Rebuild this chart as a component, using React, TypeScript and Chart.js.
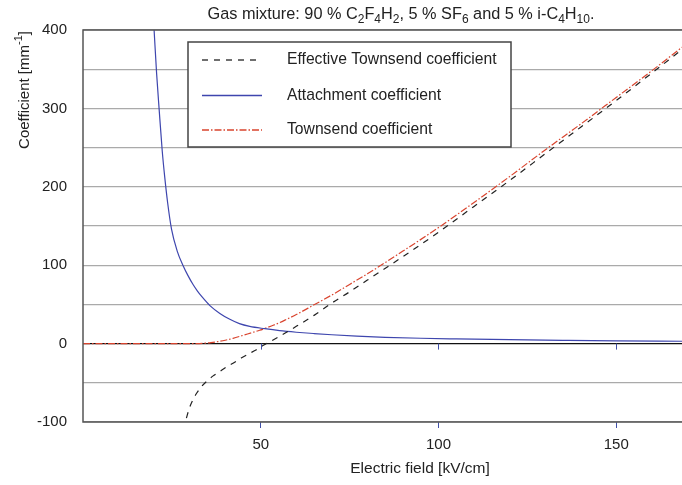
import React, { useEffect, useRef } from 'react';
import { Chart, registerables } from 'chart.js';

Chart.register(...registerables);

// ---------- data ----------
const effX = [29.1, 29.6, 30.2, 31, 32, 33.3, 34.7, 36.5, 38.5, 40.3, 42.2, 44.5, 46.9, 48.5, 50.2, 52.1, 55, 57.5, 60, 65, 69.4, 75, 80, 90, 100, 110, 120, 130, 140, 150, 160, 168.5];
const effY = [-95, -87, -79, -71, -63, -55, -48.5, -41.5, -35.5, -30, -25, -18.5, -12.4, -8.5, -3.5, 1.2, 8.5, 15, 22, 36, 50, 66, 81, 111, 142, 175, 208, 242, 276, 310, 345, 375];

const attachX = [20, 20.7, 21.4, 22.3, 23, 23.8, 24.9, 26.5, 28.2, 29.5, 31, 32.2, 33.5, 35.7, 38.5, 41.3, 44, 46.9, 51.1, 55.3, 60, 65, 70, 77, 85, 95, 105, 120, 135, 150, 168.5];
const attachY = [400, 345, 300, 245, 212, 180, 146, 118, 99, 87, 75, 67, 59.5, 48.5, 38.5, 31, 25.5, 22, 19, 16.5, 14.5, 12.8, 11.3, 9.5, 8, 6.8, 6, 5, 4.2, 3.5, 3];

const townX = [0, 10, 20, 30, 32, 34, 36, 38, 40, 42.2, 45, 47.5, 49.7, 51.1, 53, 55.3, 57.5, 60, 65, 70, 75, 80, 90, 100, 110, 120, 130, 140, 150, 160, 168.5];
const townY = [0, 0, 0, 0, 0, 0.5, 1.3, 2.6, 4.3, 6.7, 10.5, 14, 17, 19.2, 22.5, 26.7, 31.5, 37, 49.5, 62, 75.5, 89, 118, 148, 180, 213, 247, 280, 314, 348, 378];

const seriesNames = ['Effective Townsend coefficient', 'Attachment coefficient', 'Townsend coefficient'];
const seriesColors = ['#222222', '#3e46ae', '#d9442e'];
const seriesDashes = [[6, 6], [], [7, 2, 1.5, 2]];
const xTickValues = [50, 100, 150];
const xMin = 0;
const xMax = 168.5;
const yMin = -100;
const yMax = 400;

type Seg = { t: string; s?: 'sub' | 'sup' };
const titleSegs: Seg[] = [
  { t: 'Gas mixture: 90 % C' }, { t: '2', s: 'sub' }, { t: 'F' }, { t: '4', s: 'sub' }, { t: 'H' }, { t: '2', s: 'sub' },
  { t: ', 5 % SF' }, { t: '6', s: 'sub' }, { t: ' and 5 % i-C' }, { t: '4', s: 'sub' }, { t: 'H' }, { t: '10', s: 'sub' }, { t: '.' },
];
const yTitleSegs: Seg[] = [{ t: 'Coefficient [mm' }, { t: '-1', s: 'sup' }, { t: ']' }];
const xTitle = 'Electric field [kV/cm]';

const FONT = '"Liberation Sans", Arial, Helvetica, sans-serif';
const TEXT = '#222';

function toPts(xs: number[], ys: number[]) {
  return xs.map((x, i) => ({ x, y: ys[i] }));
}

function drawRich(ctx: CanvasRenderingContext2D, segs: Seg[], cx: number, by: number, size: number) {
  const base = `${size}px ${FONT}`;
  const small = `${Math.round(size * 0.75)}px ${FONT}`;
  const widths = segs.map((s) => {
    ctx.font = s.s ? small : base;
    return ctx.measureText(s.t).width;
  });
  const total = widths.reduce((a, b) => a + b, 0);
  let x = cx - total / 2;
  ctx.textAlign = 'left';
  ctx.textBaseline = 'alphabetic';
  segs.forEach((s, i) => {
    ctx.font = s.s ? small : base;
    const dy = s.s === 'sub' ? size * 0.28 : s.s === 'sup' ? -size * 0.42 : 0;
    ctx.fillText(s.t, x, by + dy);
    x += widths[i];
  });
}

const decorPlugin = {
  id: 'decor',
  afterDraw(chart: any) {
    const ctx: CanvasRenderingContext2D = chart.ctx;
    const { left, right, top, bottom } = chart.chartArea;
    const xs = chart.scales.x;
    const ys = chart.scales.y;
    ctx.save();

    // small tick marks below the zero line
    const y0 = ys.getPixelForValue(0);
    ctx.strokeStyle = '#4050a8';
    ctx.lineWidth = 1;
    xTickValues.forEach((v) => {
      const px = Math.round(xs.getPixelForValue(v)) + 0.5;
      ctx.beginPath();
      ctx.moveTo(px, y0);
      ctx.lineTo(px, y0 + 6);
      ctx.stroke();
    });

    // frame (left, top, bottom)
    ctx.strokeStyle = '#555';
    ctx.lineWidth = 1.5;
    ctx.beginPath();
    ctx.moveTo(right + 2, top);
    ctx.lineTo(left, top);
    ctx.lineTo(left, bottom);
    ctx.lineTo(right + 2, bottom);
    ctx.stroke();

    // legend
    const bx = 188, by = 42, bw = 323, bh = 105;
    ctx.fillStyle = '#fff';
    ctx.fillRect(bx, by, bw, bh);
    ctx.strokeStyle = '#444';
    ctx.lineWidth = 1.5;
    ctx.strokeRect(bx, by, bw, bh);
    const rows = [60, 95.5, 130];
    seriesNames.forEach((name, i) => {
      const yy = rows[i];
      ctx.beginPath();
      ctx.setLineDash(seriesDashes[i]);
      ctx.strokeStyle = seriesColors[i];
      ctx.lineWidth = 1.3;
      ctx.moveTo(202, yy);
      ctx.lineTo(262, yy);
      ctx.stroke();
      ctx.setLineDash([]);
      ctx.fillStyle = TEXT;
      ctx.font = `15.7px ${FONT}`;
      ctx.textAlign = 'left';
      ctx.textBaseline = 'middle';
      ctx.fillText(name, 287, yy);
    });

    // titles
    ctx.fillStyle = TEXT;
    drawRich(ctx, titleSegs, 401, 18.5, 16.3);
    ctx.font = `15.5px ${FONT}`;
    ctx.textAlign = 'center';
    ctx.textBaseline = 'alphabetic';
    ctx.fillText(xTitle, 420, 473);
    ctx.save();
    ctx.translate(28.5, 90);
    ctx.rotate(-Math.PI / 2);
    drawRich(ctx, yTitleSegs, 0, 0, 15);
    ctx.restore();

    ctx.restore();
  },
};

export default function App() {
  const ref = useRef<HTMLCanvasElement>(null);
  useEffect(() => {
    const series = [toPts(effX, effY), toPts(attachX, attachY), toPts(townX, townY)];
    const chart = new Chart(ref.current as HTMLCanvasElement, {
      type: 'line',
      data: {
        datasets: series.map((pts, i) => ({
          label: seriesNames[i],
          data: pts,
          borderColor: seriesColors[i],
          borderWidth: 1.2,
          borderDash: seriesDashes[i],
          pointRadius: 0,
          fill: false,
          cubicInterpolationMode: 'monotone',
        })),
      },
      options: {
        responsive: false,
        animation: false,
        devicePixelRatio: 1,
        layout: { padding: { top: 30, left: 0, right: 0, bottom: 0 } },
        plugins: { legend: { display: false }, tooltip: { enabled: false }, title: { display: false } },
        scales: {
          x: {
            type: 'linear',
            min: xMin,
            max: xMax,
            afterBuildTicks: (scale: any) => {
              scale.ticks = xTickValues.map((v) => ({ value: v }));
            },
            afterFit: (scale: any) => {
              scale.height = 63;
            },
            border: { display: false },
            grid: { drawOnChartArea: false, drawTicks: true, tickLength: 6, tickColor: '#4050a8', color: '#4050a8' },
            ticks: { color: TEXT, font: { family: FONT, size: 15 }, padding: 8, maxRotation: 0, autoSkip: false },
          },
          y: {
            min: yMin,
            max: yMax,
            afterFit: (scale: any) => {
              scale.width = 83;
            },
            border: { display: false },
            grid: {
              drawTicks: false,
              color: (c: any) => (c.tick && c.tick.value === 0 ? '#111' : '#aaaaaa'),
              lineWidth: 1.3,
            },
            ticks: {
              stepSize: 50,
              padding: 16,
              color: TEXT,
              font: { family: FONT, size: 15 },
              callback: (v: any) => (Number(v) % 100 === 0 ? String(v) : ''),
            },
          },
        },
      },
      plugins: [decorPlugin],
    } as any);
    return () => chart.destroy();
  }, []);
  return (
    <div style={{ position: 'absolute', left: 0, top: 0, width: 682, height: 485, background: '#fff' }}>
      <canvas ref={ref} width={682} height={485} style={{ display: 'block', width: 682, height: 485 }} />
    </div>
  );
}
